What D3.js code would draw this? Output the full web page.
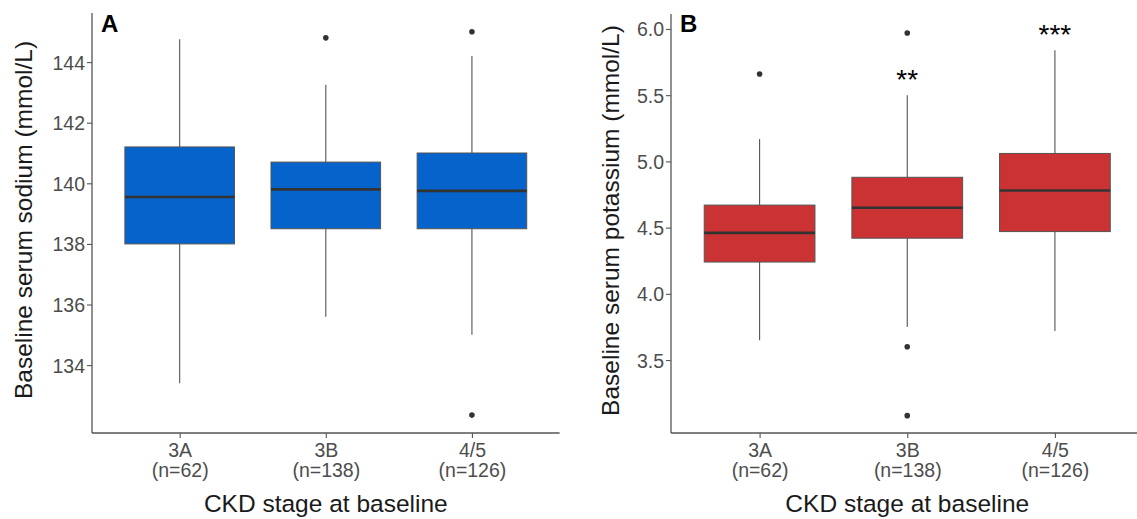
<!DOCTYPE html>
<html>
<head>
<meta charset="utf-8">
<script src="https://cdn.jsdelivr.net/npm/d3@7"></script>
<style>
  body { margin: 0; background: #fff; }
  svg { display: block; font-family: "Liberation Sans", Arial, sans-serif; }
</style>
</head>
<body>
<svg id="chart" width="1137" height="519"></svg>
<script>
// categories shared by both panels
var stages = ["3A", "3B", "4/5"];
var stageN = ["(n=62)", "(n=138)", "(n=126)"];

// panel A - sodium
var sodiumLow = [133.4, 135.6, 135.0];
var sodiumQ1 = [138.0, 138.5, 138.5];
var sodiumMedian = [139.55, 139.8, 139.75];
var sodiumQ3 = [141.2, 140.7, 141.0];
var sodiumHigh = [144.75, 143.25, 144.2];
var sodiumOutliers = [[], [144.8], [145.0, 132.35]];
var sodiumTicks = [134, 136, 138, 140, 142, 144];

// panel B - potassium
var potassiumLow = [3.65, 3.75, 3.72];
var potassiumQ1 = [4.24, 4.42, 4.47];
var potassiumMedian = [4.46, 4.65, 4.78];
var potassiumQ3 = [4.67, 4.88, 5.06];
var potassiumHigh = [5.17, 5.50, 5.84];
var potassiumOutliers = [[5.66], [5.97, 3.60, 3.08], []];
var potassiumTicks = [3.5, 4.0, 4.5, 5.0, 5.5, 6.0];
var signifLabels = ["", "**", "***"];
var signifY = [null, 5.64, 5.98];

var svg = d3.select("#chart");

function drawPanel(opt) {
    var x = d3.scalePoint()
        .domain(stages)
        .range([opt.left, opt.right])
        .padding(0.6);
    var y = d3.scaleLinear()
        .domain(opt.domain)
        .range([433, opt.top]);

    var g = svg.append("g");
    var boxW = x.step() * 0.75;

    var rows = stages.map(function(s, i) {
        return {stage: s, lo: opt.low[i], q1: opt.q1[i], med: opt.median[i],
                q3: opt.q3[i], hi: opt.high[i], out: opt.outliers[i]};
    });

    // whiskers
    g.selectAll(".whisk-up").data(rows).join("line")
        .attr("x1", d => x(d.stage)).attr("x2", d => x(d.stage))
        .attr("y1", d => y(d.q3)).attr("y2", d => y(d.hi))
        .attr("stroke", "#555").attr("stroke-width", 1.1);
    g.selectAll(".whisk-dn").data(rows).join("line")
        .attr("x1", d => x(d.stage)).attr("x2", d => x(d.stage))
        .attr("y1", d => y(d.q1)).attr("y2", d => y(d.lo))
        .attr("stroke", "#555").attr("stroke-width", 1.1);

    // boxes
    g.selectAll(".box").data(rows).join("rect")
        .attr("x", d => x(d.stage) - boxW / 2)
        .attr("width", boxW)
        .attr("y", d => y(d.q3))
        .attr("height", d => y(d.q1) - y(d.q3))
        .attr("fill", opt.fill)
        .attr("stroke", "#555")
        .attr("stroke-width", 1);

    // medians
    g.selectAll(".median").data(rows).join("line")
        .attr("x1", d => x(d.stage) - boxW / 2)
        .attr("x2", d => x(d.stage) + boxW / 2)
        .attr("y1", d => y(d.med)).attr("y2", d => y(d.med))
        .attr("stroke", "#333").attr("stroke-width", 2.6);

    // outliers
    var pts = [];
    rows.forEach(function(d) { d.out.forEach(v => pts.push({stage: d.stage, v: v})); });
    g.selectAll(".outlier").data(pts).join("circle")
        .attr("cx", d => x(d.stage)).attr("cy", d => y(d.v))
        .attr("r", 2.8).attr("fill", "#333");

    // axes
    var yAxis = g.append("g")
        .attr("transform", "translate(" + opt.left + ",0)")
        .call(d3.axisLeft(y).tickValues(opt.ticks).tickSize(5).tickPadding(2)
            .tickFormat(opt.fmt));
    yAxis.select(".domain").attr("d", "M0," + opt.top + "V433")
        .attr("stroke", "#555").attr("stroke-width", 1.3);
    yAxis.selectAll(".tick line").attr("stroke", "#555").attr("stroke-width", 1.1);
    yAxis.selectAll(".tick text").attr("fill", "#4d4d4d")
        .style("font-size", "19.5px").attr("dy", "0.36em");

    var xAxis = g.append("g")
        .attr("transform", "translate(0,433)")
        .call(d3.axisBottom(x).tickSize(5).tickSizeOuter(0).tickPadding(3));
    xAxis.select(".domain").attr("d", "M" + opt.left + ",0H" + opt.right)
        .attr("stroke", "#555").attr("stroke-width", 1.3);
    xAxis.selectAll(".tick line").attr("stroke", "#555").attr("stroke-width", 1.1);
    xAxis.selectAll(".tick text").remove();
    xAxis.selectAll(".tick").append("text")
        .attr("fill", "#4d4d4d")
        .attr("text-anchor", "middle")
        .style("font-size", "19.5px")
        .attr("y", 24)
        .text(d => d);
    xAxis.selectAll(".tick").append("text")
        .attr("fill", "#4d4d4d")
        .attr("text-anchor", "middle")
        .style("font-size", "19.5px")
        .attr("y", 44)
        .text((d, i) => stageN[i]);

    // axis titles
    svg.append("text")
        .attr("x", (opt.left + opt.right) / 2)
        .attr("y", 512)
        .attr("text-anchor", "middle")
        .style("font-size", "24.5px")
        .attr("fill", "#1a1a1a")
        .text("CKD stage at baseline");
    svg.append("text")
        .attr("transform", "translate(" + opt.titleX + "," + ((opt.top + 433) / 2 - 3) + ") rotate(-90)")
        .attr("text-anchor", "middle")
        .style("font-size", "24.5px")
        .attr("fill", "#1a1a1a")
        .text(opt.yTitle);

    // panel letter
    svg.append("text")
        .attr("x", opt.left + 9)
        .attr("y", 32)
        .style("font-size", "24px")
        .style("font-weight", "700")
        .attr("fill", "#000")
        .text(opt.letter);

    return {x: x, y: y, g: g};
}

drawPanel({
    left: 92, right: 559.6, top: 13,
    domain: [131.76, 145.62],
    low: sodiumLow, q1: sodiumQ1, median: sodiumMedian, q3: sodiumQ3,
    high: sodiumHigh, outliers: sodiumOutliers, ticks: sodiumTicks,
    fmt: d3.format("d"),
    fill: "#0563cb",
    yTitle: "Baseline serum sodium (mmol/L)",
    titleX: 32, letter: "A"
});

var pB = drawPanel({
    left: 671, right: 1143.5, top: 14,
    domain: [2.949, 6.113],
    low: potassiumLow, q1: potassiumQ1, median: potassiumMedian, q3: potassiumQ3,
    high: potassiumHigh, outliers: potassiumOutliers, ticks: potassiumTicks,
    fmt: d3.format(".1f"),
    fill: "#cb3233",
    yTitle: "Baseline serum potassium (mmol/L)",
    titleX: 619, letter: "B"
});

// significance stars
pB.g.selectAll(".signif").data(stages.filter((s, i) => signifLabels[i]))
    .join("text")
    .attr("x", d => pB.x(d))
    .attr("y", d => pB.y(signifY[stages.indexOf(d)]) + 12)
    .attr("text-anchor", "middle")
    .style("font-size", "28px")
    .attr("fill", "#000")
    .text(d => signifLabels[stages.indexOf(d)]);
</script>
</body>
</html>
